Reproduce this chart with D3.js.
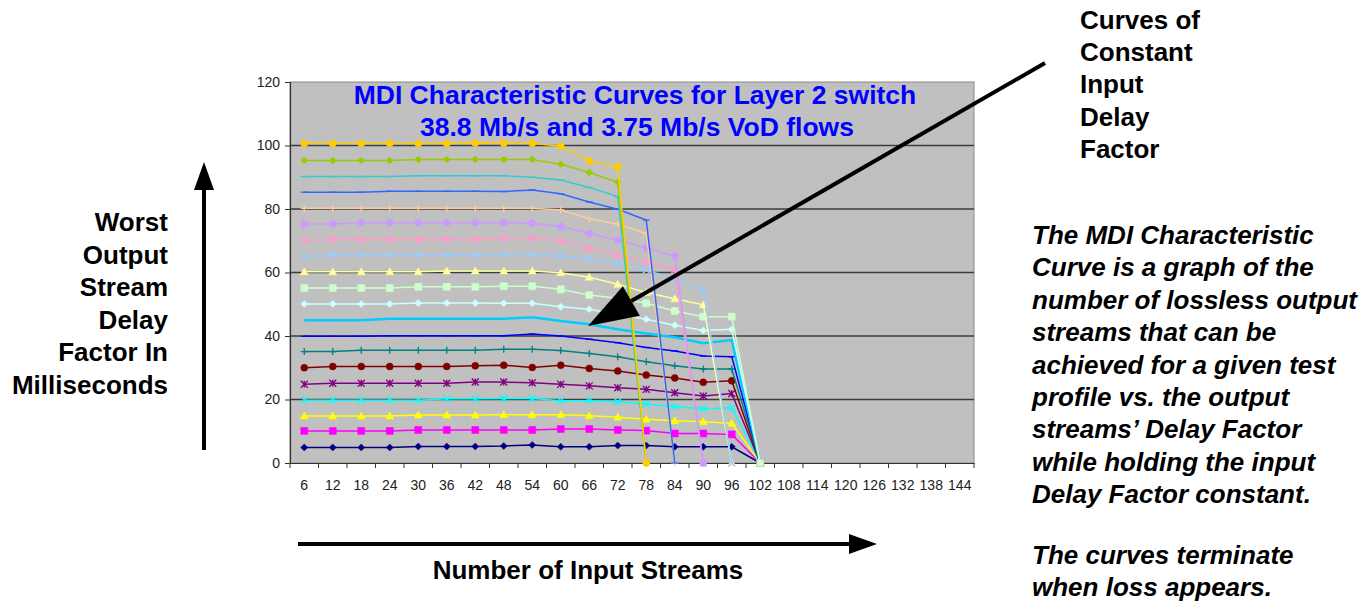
<!DOCTYPE html>
<html>
<head>
<meta charset="utf-8">
<script src="https://cdn.jsdelivr.net/npm/d3@7"></script>
<style>
  body { margin: 0; background: #fff; }
  svg { display: block; }
  .big { font-family: "Liberation Sans", Arial, sans-serif; font-weight: bold; font-size: 26px; fill: #000; }
  .note { font-style: italic; }
</style>
</head>
<body>
<div id="chart"></div>
<script>
// categories = number of input streams
var streams = [6,12,18,24,30,36,42,48,54,60,66,72,78,84,90,96,102,108,114,120,126,132,138,144];
var yTicks = [0,20,40,60,80,100,120];

// worst output delay factor (ms) for each constant input delay factor
// (the curve stops at the first zero: loss appears)
var idf5   = [4.9,4.9,4.9,4.9,5.2,5.2,5.2,5.35,5.7,5.1,5.1,5.5,5.5,5.1,5.1,5.1,0];
var idf10  = [10.1,10.1,10.1,10.1,10.4,10.4,10.4,10.4,10.4,10.7,10.7,10.4,10.2,9.3,9.3,9.0,0];
var idf15  = [14.8,14.8,14.8,14.8,15.1,15.1,15.1,15.2,15.2,15.2,14.9,14.4,13.8,13.3,13.0,12.5,0];
var idf20  = [19.8,19.8,19.8,19.8,19.8,20.2,20.2,20.3,20.3,19.6,19.6,19.3,18.6,17.7,17.1,17.4,0];
var idf25  = [24.8,25.1,25.1,25.1,25.1,25.1,25.5,25.5,25.3,24.8,24.3,23.7,23.2,22.1,21.1,21.9,0];
var idf30  = [30.0,30.4,30.4,30.4,30.4,30.4,30.6,30.8,30.1,30.8,29.8,29.0,27.7,26.8,25.4,25.9,0];
var idf35  = [35.1,35.1,35.5,35.5,35.5,35.5,35.5,35.8,35.8,35.4,34.5,33.5,31.9,30.6,29.6,29.6,0];
var idf40  = [39.9,39.9,39.9,40.1,40.1,40.1,40.1,40.1,40.6,40.0,39.0,37.9,36.4,35.3,33.7,33.5,0];
var idf45  = [45.0,45.0,45.0,45.4,45.4,45.4,45.4,45.4,45.9,44.7,43.7,42.1,40.8,39.6,37.7,38.7,0];
var idf50  = [50.1,50.1,50.1,50.1,50.4,50.4,50.4,50.3,50.3,49.2,48.4,46.8,45.3,43.4,41.7,42.1,0];
var idf55  = [55.1,55.1,55.1,55.1,55.5,55.5,55.5,55.7,55.7,54.7,52.9,51.9,50.3,47.9,46.1,46.1,0];
var idf60  = [60.2,60.2,60.2,60.2,60.2,60.5,60.5,60.5,60.5,59.9,58.5,56.3,53.7,51.7,49.8,0];
var idf65  = [65.0,65.5,65.5,65.5,65.5,65.5,65.5,65.7,65.7,65.2,64.3,62.8,60.8,58.0,54.5,0];
var idf70  = [70.0,70.4,70.4,70.4,70.4,70.4,70.4,70.8,70.8,70.0,67.6,65.5,63.4,60.8,0];
var idf75  = [75.3,75.3,75.7,75.7,75.7,75.7,75.7,75.7,75.5,74.5,72.3,70.2,67.8,65.1,0];
var idf80  = [80.2,80.2,80.2,80.2,80.2,80.2,80.2,80.2,80.2,79.7,77.0,75.2,72.3,0];
var idf85  = [85.3,85.3,85.3,85.6,85.6,85.6,85.6,85.5,86.0,84.8,82.2,79.9,76.5,0];
var idf90  = [90.2,90.2,90.2,90.2,90.5,90.5,90.5,90.5,90.0,89.1,86.8,83.9,0];
var idf95  = [95.3,95.3,95.3,95.3,95.6,95.6,95.6,95.6,95.6,94.1,91.5,88.4,0];
var idf100 = [100.6,100.6,100.6,100.6,100.6,100.6,100.8,100.7,100.7,99.8,95.1,93.3,0];

// excel 2003 style series look
var series = [
  {values: idf5,   color: "#000080", mark: "diamond"},
  {values: idf10,  color: "#FF00FF", mark: "square"},
  {values: idf15,  color: "#FFFF00", mark: "triangle"},
  {values: idf20,  color: "#00FFFF", mark: "x"},
  {values: idf25,  color: "#800080", mark: "star"},
  {values: idf30,  color: "#800000", mark: "circle"},
  {values: idf35,  color: "#008080", mark: "plus"},
  {values: idf40,  color: "#0000FF", mark: "dash"},
  {values: idf45,  color: "#00CCFF", mark: "none", width: 2.5},
  {values: idf50,  color: "#CCFFFF", mark: "diamond"},
  {values: idf55,  color: "#CCFFCC", mark: "square"},
  {values: idf60,  color: "#FFFF99", mark: "triangle"},
  {values: idf65,  color: "#99CCFF", mark: "x"},
  {values: idf70,  color: "#FF99CC", mark: "star"},
  {values: idf75,  color: "#CC99FF", mark: "circle"},
  {values: idf80,  color: "#FFCC99", mark: "plus"},
  {values: idf85,  color: "#3366FF", mark: "dash"},
  {values: idf90,  color: "#33CCCC", mark: "dash"},
  {values: idf95,  color: "#99CC00", mark: "diamond"},
  {values: idf100, color: "#FFCC00", mark: "circle"}
];

var W = 1371, H = 602;
var plot = {left: 290, right: 974, top: 82, bottom: 463};

var svg = d3.select("#chart").append("svg")
    .attr("width", W)
    .attr("height", H);

var x = d3.scaleBand().domain(streams).range([plot.left, plot.right]);
var y = d3.scaleLinear().domain([0, 120]).range([plot.bottom, plot.top]);

// plot area
svg.append("rect")
    .attr("x", plot.left).attr("y", plot.top)
    .attr("width", plot.right - plot.left).attr("height", plot.bottom - plot.top)
    .attr("fill", "#C0C0C0")
    .attr("stroke", "#8a8a8a")
    .attr("stroke-width", 1);

// gridlines
svg.append("g").selectAll("line")
    .data(yTicks.filter(function (d) { return d > 0 && d < 120; }))
    .enter().append("line")
    .attr("x1", plot.left).attr("x2", plot.right)
    .attr("y1", function (d) { return y(d); })
    .attr("y2", function (d) { return y(d); })
    .attr("stroke", "#3c3c3c")
    .attr("stroke-width", 1.5);

// axes
var yAxis = svg.append("g")
    .attr("transform", "translate(" + plot.left + ",0)")
    .call(d3.axisLeft(y).tickValues(yTicks).tickSize(5).tickPadding(5));
yAxis.selectAll("text")
    .style("font-family", "'Liberation Sans', Arial, sans-serif")
    .style("font-size", "14px")
    .attr("fill", "#222");

var xAxis = svg.append("g")
    .attr("transform", "translate(0," + plot.bottom + ")")
    .call(d3.axisBottom(x).tickSize(0).tickPadding(17));
xAxis.selectAll("text")
    .style("font-family", "'Liberation Sans Narrow', 'Liberation Sans', Arial, sans-serif")
    .style("font-size", "14px")
    .attr("fill", "#222");
// tick marks sit between categories
xAxis.selectAll(".boundary")
    .data(streams.concat(["end"]))
    .enter().append("line")
    .attr("class", "boundary")
    .attr("x1", function (d, i) { return plot.left + i * x.bandwidth(); })
    .attr("x2", function (d, i) { return plot.left + i * x.bandwidth(); })
    .attr("y1", 0).attr("y2", 5)
    .attr("stroke", "#333");
svg.selectAll(".domain").attr("stroke", "#333").attr("stroke-width", 1.2);
svg.selectAll(".tick line").attr("stroke", "#333");

// markers
function markPath(type, s) {
    switch (type) {
        case "diamond": return "M0," + (-s) + "L" + s + ",0L0," + s + "L" + (-s) + ",0Z";
        case "square": return "M" + (-s) + "," + (-s) + "h" + 2 * s + "v" + 2 * s + "h" + (-2 * s) + "Z";
        case "triangle": return "M0," + (-s - 0.5) + "L" + (s + 0.5) + "," + (s - 0.5) + "L" + (-s - 0.5) + "," + (s - 0.5) + "Z";
        case "circle": return d3.symbol(d3.symbolCircle, Math.PI * s * s)();
        case "x": return "M" + (-s) + "," + (-s) + "L" + s + "," + s + "M" + (-s) + "," + s + "L" + s + "," + (-s);
        case "star": return "M" + (-s) + "," + (-s) + "L" + s + "," + s + "M" + (-s) + "," + s + "L" + s + "," + (-s) + "M0," + (-s) + "V" + s;
        case "plus": return "M" + (-s) + ",0H" + s + "M0," + (-s) + "V" + s;
        case "dash": return "M" + (-s) + ",0H" + s;
    }
    return "";
}
var filled = {diamond: true, square: true, triangle: true, circle: true};

var line = d3.line()
    .x(function (d) { return x(d.s) + x.bandwidth() / 2; })
    .y(function (d) { return y(d.v); });

series.forEach(function (sr) {
    var pts = sr.values.map(function (v, i) { return {s: streams[i], v: v}; });
    var g = svg.append("g");
    g.append("path")
        .datum(pts)
        .attr("d", line)
        .attr("fill", "none")
        .attr("stroke", sr.color)
        .attr("stroke-width", sr.width || 1.5);
    if (sr.mark === "none") return;
    g.selectAll("path.mk")
        .data(pts)
        .enter().append("path")
        .attr("class", "mk")
        .attr("transform", function (d) { return "translate(" + (x(d.s) + x.bandwidth() / 2) + "," + y(d.v) + ")"; })
        .attr("d", markPath(sr.mark, 3.5))
        .attr("fill", filled[sr.mark] ? sr.color : "none")
        .attr("stroke", sr.color)
        .attr("stroke-width", filled[sr.mark] ? 0.5 : 1.3);
});

// title inside plot
var title = svg.append("text")
    .attr("class", "big")
    .attr("text-anchor", "middle")
    .style("fill", "#0000FF")
    .style("font-size", "26.5px");
title.append("tspan").attr("x", 635).attr("y", 104).text("MDI Characteristic Curves for Layer 2 switch");
title.append("tspan").attr("x", 637).attr("y", 136).text("38.8 Mb/s and 3.75 Mb/s VoD flows");

// arrows
var arrows = svg.append("g");
function arrow(x1, y1, x2, y2, len, half) {
    var a = Math.atan2(y2 - y1, x2 - x1);
    var bx = x2 - len * Math.cos(a), by = y2 - len * Math.sin(a);
    arrows.append("line")
        .attr("x1", x1).attr("y1", y1).attr("x2", bx).attr("y2", by)
        .attr("stroke", "#000").attr("stroke-width", 4);
    var px = -Math.sin(a) * half, py = Math.cos(a) * half;
    arrows.append("path")
        .attr("d", "M" + x2 + "," + y2 + "L" + (bx + px) + "," + (by + py) + "L" + (bx - px) + "," + (by - py) + "Z")
        .attr("fill", "#000");
}
arrow(204, 450, 204, 162, 28, 10);
arrow(298, 544, 877, 544, 28, 10);
arrow(1045, 63, 588, 326, 50, 17);

// text blocks
function block(lines, xPos, y0, step, anchor, cls) {
    var t = svg.append("text")
        .attr("class", "big" + (cls ? " " + cls : ""))
        .attr("text-anchor", anchor);
    lines.forEach(function (s, i) {
        t.append("tspan").attr("x", xPos).attr("y", y0 + i * step).text(s);
    });
}
block(["Worst", "Output", "Stream", "Delay", "Factor In", "Milliseconds"], 168, 231, 32.6, "end");
block(["Curves of", "Constant", "Input", "Delay", "Factor"], 1080, 29, 32.2, "start");
block(["The MDI Characteristic", "Curve is a graph of the", "number of lossless output",
       "streams that can be", "achieved for a given test", "profile vs. the output",
       "streams\u2019 Delay Factor", "while holding the input", "Delay Factor constant."],
      1032, 244, 32.4, "start", "note");
block(["The curves terminate", "when loss appears."], 1032, 564, 32.4, "start", "note");
block(["Number of Input Streams"], 588, 579, 0, "middle");
</script>
</body>
</html>
